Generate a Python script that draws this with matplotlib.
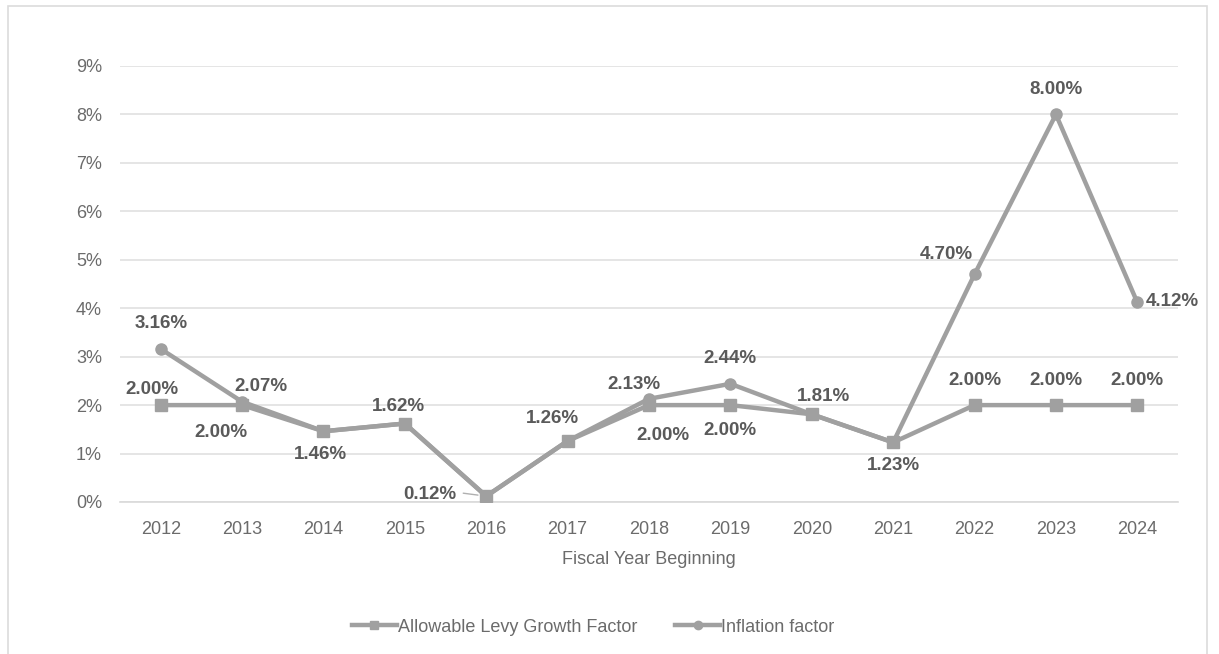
import matplotlib
matplotlib.use("Agg")
import matplotlib.pyplot as plt
from matplotlib.patches import Rectangle
from matplotlib.ticker import FuncFormatter

plt.rcParams["font.family"] = ["Liberation Sans", "DejaVu Sans"]

years = ["2012", "2013", "2014", "2015", "2016", "2017", "2018",
         "2019", "2020", "2021", "2022", "2023", "2024"]
levy_growth = [2.00, 2.00, 1.46, 1.62, 0.12, 1.26, 2.00, 2.00, 1.81, 1.23, 2.00, 2.00, 2.00]
inflation = [3.16, 2.07, 1.46, 1.62, 0.12, 1.26, 2.13, 2.44, 1.81, 1.23, 4.70, 8.00, 4.12]
y_ticks = [0, 1, 2, 3, 4, 5, 6, 7, 8, 9]

W, H = 1219, 654
fig = plt.figure(figsize=(W / 100, H / 100), dpi=100)
fig.patch.set_facecolor("white")
fig.add_artist(Rectangle((8 / W, -0.02), (1207 - 8) / W, 1 - 6 / H + 0.02,
                         transform=fig.transFigure, fill=False,
                         edgecolor="#dcdcdc", linewidth=1.2))

ax = fig.add_axes([120 / W, 1 - 502 / H, (1178 - 120) / W, (502 - 66) / H])
x = list(range(len(years)))
line_color = "#a0a0a0"
ax.plot(x, levy_growth, color=line_color, lw=3.2, marker="s", ms=8,
        label="Allowable Levy Growth Factor", zorder=3)
ax.plot(x, inflation, color=line_color, lw=3.2, marker="o", ms=8,
        label="Inflation factor", zorder=3)

ax.set_xlim(-0.5, len(years) - 0.5)
ax.set_ylim(0, 9)
ax.set_yticks(y_ticks)
ax.yaxis.set_major_formatter(FuncFormatter(lambda v, p: f"{v:.0f}%"))
ax.set_xticks(x)
ax.set_xticklabels(years)
ax.grid(axis="y", color="#e0e0e0", lw=1.2)
ax.set_axisbelow(True)
for s in ["top", "right", "left"]:
    ax.spines[s].set_visible(False)
ax.spines["bottom"].set_color("#d9d9d9")
ax.spines["bottom"].set_linewidth(1.2)
ax.tick_params(axis="both", length=0, colors="#6b6b6b", labelsize=13)
ax.tick_params(axis="x", pad=14)
ax.tick_params(axis="y", pad=13)
ax.set_xlabel("Fiscal Year Beginning", color="#6b6b6b", fontsize=13, labelpad=9)

lab_kw = dict(fontsize=13.5, fontweight="bold", color="#5a5a5a",
              ha="center", va="center", textcoords="offset pixels")
# inflation labels: (index, dx, dy) pixel offsets
inf_off = {0: (0, 25), 1: (19, 15), 2: (-3, -23), 3: (-6, 17), 4: (-56, 2),
           5: (-15, 22), 6: (-15, 14), 7: (0, 25), 8: (12, 18),
           9: (0, -23), 10: (-28, 20), 11: (0, 25), 12: (35, 1)}
for i, (dx, dy) in inf_off.items():
    ax.annotate(f"{inflation[i]:.2f}%", (x[i], inflation[i]),
                xytext=(dx, dy), **lab_kw)
lev_off = {0: (-9, 16), 1: (-21, -27), 6: (14, -30), 7: (0, -25),
           10: (0, 25), 11: (0, 25), 12: (0, 25)}
for i, (dx, dy) in lev_off.items():
    ax.annotate(f"{levy_growth[i]:.2f}%", (x[i], levy_growth[i]),
                xytext=(dx, dy), **lab_kw)

# leader line for 0.12%
ax.annotate("", xy=(x[4], inflation[4]), xytext=(-23, 3),
            textcoords="offset pixels",
            arrowprops=dict(arrowstyle="-", color="#b0b0b0", lw=1,
                            shrinkA=0, shrinkB=6))

leg = fig.legend(loc="center", bbox_to_anchor=(593 / W, 1 - 627 / H), ncol=2,
                 frameon=False, fontsize=13, handlelength=2.5,
                 columnspacing=2.1, handletextpad=0.05, markerscale=0.75)
for t in leg.get_texts():
    t.set_color("#6b6b6b")

fig.savefig("out.png", dpi=100, facecolor="white")
